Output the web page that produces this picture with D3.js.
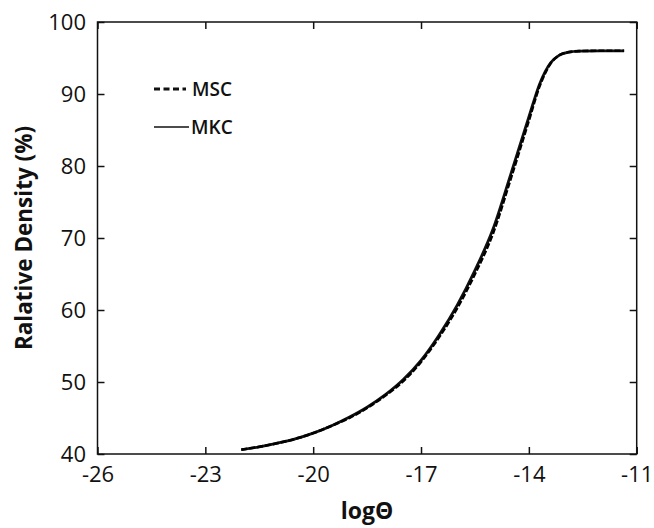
<!DOCTYPE html>
<html>
<head>
<meta charset="utf-8">
<script src="https://cdn.jsdelivr.net/npm/d3@7"></script>
<style>
  body { margin: 0; background: #fff; }
  text { font-family: "Open Sans", sans-serif; fill: #111; }
</style>
</head>
<body>
<div id="vis"></div>
<script>
var W = 654, H = 528,
    m = {left: 97.5, right: 17.3, top: 22, bottom: 74},
    w = W - m.left - m.right,
    h = H - m.top - m.bottom;

// values
var xTicks = [-26, -23, -20, -17, -14, -11],
    yTicks = [40, 50, 60, 70, 80, 90, 100];

var logTheta = [-22.0, -21.5, -21.0, -20.5, -20.0, -19.5, -19.0, -18.5, -18.0, -17.5, -17.0, -16.5, -16.0, -15.5, -15.0, -14.5, -14.0, -13.7, -13.4, -13.15, -12.9, -12.6, -12.0, -11.35],
    mkcDen = [40.6, 41.0, 41.5, 42.1, 42.9, 43.9, 45.1, 46.5, 48.2, 50.3, 53.0, 56.5, 60.6, 65.5, 71.2, 78.9, 86.8, 91.4, 94.3, 95.4, 95.8, 95.95, 96.0, 96.0],
    mscDen = [40.6, 41.0, 41.5, 42.1, 42.9, 43.9, 45.0, 46.4, 48.1, 50.1, 52.8, 56.2, 60.2, 65.0, 70.6, 78.3, 86.3, 91.1, 94.2, 95.4, 95.8, 95.95, 96.0, 96.0];

var x = d3.scaleLinear().domain([-26, -11]).range([0, w]),
    y = d3.scaleLinear().domain([40, 100]).range([h, 0]);

var svg = d3.select("#vis").append("svg")
    .attr("width", W)
    .attr("height", H)
  .append("g")
    .attr("transform", "translate(" + m.left + "," + m.top + ")");

// frame with inward ticks on all sides
function styleAxis(g) {
  g.select(".domain").remove();
  g.selectAll("line").attr("stroke", "#111").attr("stroke-width", 1.5);
  g.selectAll("text").style("font-size", "22px").attr("fill", "#111");
}

var fmt = function(d) { return String(d); };  // plain hyphen, like the original

svg.append("g")
    .attr("transform", "translate(0," + h + ")")
    .call(d3.axisBottom(x).tickValues(xTicks).tickFormat(fmt).tickSizeInner(-7).tickSizeOuter(0).tickPadding(12.5))
    .call(styleAxis);

svg.append("g")
    .call(d3.axisLeft(y).tickValues(yTicks).tickFormat(fmt).tickSizeInner(-7).tickSizeOuter(0).tickPadding(11.5))
    .call(styleAxis);

svg.append("g")
    .call(d3.axisTop(x).tickValues(xTicks).tickSizeInner(-7).tickSizeOuter(0).tickFormat(""))
    .call(styleAxis);

svg.append("g")
    .attr("transform", "translate(" + w + ",0)")
    .call(d3.axisRight(y).tickValues(yTicks).tickSizeInner(-7).tickSizeOuter(0).tickFormat(""))
    .call(styleAxis);

svg.append("rect")
    .attr("width", w)
    .attr("height", h)
    .attr("fill", "none")
    .attr("stroke", "#111")
    .attr("stroke-width", 1.5);

// curves
var line = d3.line()
    .x(function(d) { return x(d[0]); })
    .y(function(d) { return y(d[1]); })
    .curve(d3.curveMonotoneX);

svg.append("path")
    .datum(d3.zip(logTheta, mkcDen))
    .attr("d", line)
    .attr("fill", "none")
    .attr("stroke", "#111")
    .attr("stroke-width", 2.8);

svg.append("path")
    .datum(d3.zip(logTheta, mscDen))
    .attr("d", line)
    .attr("fill", "none")
    .attr("stroke", "#000")
    .attr("stroke-width", 2.6)
    .attr("stroke-dasharray", "6,2");

// legend
var legend = [
  {name: "MSC", dash: "6,3.5", ly: 89},
  {name: "MKC", dash: null, ly: 127}
];

var lg = svg.selectAll(".lg")
    .data(legend)
  .enter().append("g")
    .attr("transform", function(d) { return "translate(" + (154 - m.left) + "," + (d.ly - m.top) + ")"; });

lg.append("line")
    .attr("x1", 0).attr("x2", function(d) { return d.dash ? 32 : 35; })
    .attr("stroke", "#111")
    .attr("stroke-width", function(d) { return d.dash ? 2.8 : 1.4; })
    .attr("stroke-dasharray", function(d) { return d.dash; });

lg.append("text")
    .attr("x", function(d) { return d.dash ? 38 : 37; })
    .attr("dy", "0.36em")
    .style("font-size", "19px")
    .style("font-weight", 600)
    .text(function(d) { return d.name; });

// axis titles
svg.append("text")
    .attr("x", w / 2)
    .attr("y", h + 65)
    .attr("text-anchor", "middle")
    .style("font-size", "23px")
    .style("font-weight", 700)
    .text("logΘ");

svg.append("text")
    .attr("transform", "translate(" + (32 - m.left) + "," + (238 - m.top) + ") rotate(-90)")
    .attr("text-anchor", "middle")
    .style("font-size", "22.5px")
    .style("font-weight", 700)
    .text("Ralative Density (%)");
</script>
</body>
</html>
